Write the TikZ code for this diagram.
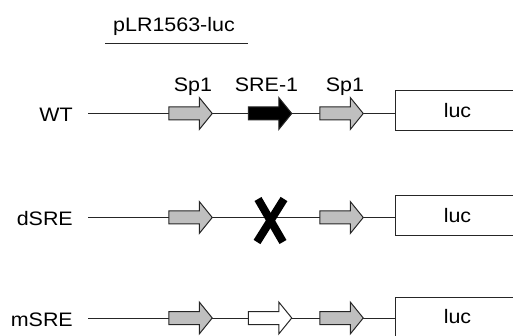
\documentclass[tikz,border=0pt]{standalone}
\usepackage{fontspec}
\setmainfont{Liberation Sans}[FakeStretch=1.1]
\usetikzlibrary{calc}
\tikzset{
  lbl/.style={font=\fontsize{19.5}{22}\selectfont, inner sep=0pt},
  site/.style={minimum width=43.5pt, minimum height=32pt, inner sep=0pt, outer sep=0pt},
  dna/.style={draw=black!85, line width=1pt},
  lucbox/.style={draw=black!85, line width=1pt, minimum width=124pt, minimum height=40pt, inner sep=0pt, font=\fontsize{19.5}{22}\selectfont},
  xmark/.style={draw=black, line width=8pt},
}
\newcommand{\genearrow}[2]{%
  \draw[dna, fill=#2] ($(#1.west)+(0,-6.5)$) -- ++(30.5,0) -- ++(0,-9.5) -- (#1.east)
    -- ++(-13,16) -- ++(0,-9.5) -- ++(-30.5,0) -- cycle;}
\begin{document}
\begin{tikzpicture}[x=1pt,y=-1pt]
\useasboundingbox (0,0) rectangle (513,336);
\clip (0,0) rectangle (513,336);
% title
\node[lbl, anchor=base] (title) at (174,32) {pLR1563-luc};
\coordinate (ul1) at (105,44);
\coordinate (ul2) at (248,44);
\draw[dna] (ul1) -- (ul2);

% ---- WT ----
\node[lbl, anchor=base east] (wt) at (73,122) {WT};
\coordinate (s1) at (88,113.5);
\node[site] (a1) at (190.5,113.5) {};
\node[site] (b1) at (270,113.5) {};
\node[site] (c1) at (341.5,113.5) {};
\node[lucbox, anchor=west] (l1) at (395,111) {luc};
\draw[dna] (s1) -- (a1.west);
\draw[dna] (a1.east) -- (b1.west);
\draw[dna] (b1.east) -- (c1.west);
\draw[dna] (c1.east) -- (l1.west |- c1.east);
\genearrow{a1}{black!25}
\genearrow{b1}{black}
\genearrow{c1}{black!25}
\node[lbl, anchor=base] (sp1a) at (193,92) {Sp1};
\node[lbl, anchor=base] (sre) at (266.5,92) {SRE-1};
\node[lbl, anchor=base] (sp1b) at (345,92) {Sp1};

% ---- dSRE ----
\node[lbl, anchor=base east] (dsre) at (73,226) {dSRE};
\coordinate (s2) at (88,217.5);
\node[site] (a2) at (190.5,217.5) {};
\coordinate (x2) at (270.5,220.5);
\node[site] (c2) at (341.5,217.5) {};
\node[lucbox, anchor=west] (l2) at (395,216) {luc};
\draw[dna] (s2) -- (a2.west);
\draw[dna] (a2.east) -- (c2.west);
\draw[dna] (c2.east) -- (l2.west |- c2.east);
\genearrow{a2}{black!25}
\genearrow{c2}{black!25}
\draw[xmark] ($(x2)+(-12.5,-21.5)$) -- ($(x2)+(12.5,21.5)$);
\draw[xmark] ($(x2)+(13.5,-21.5)$) -- ($(x2)+(-13.5,21.5)$);

% ---- mSRE ----
\node[lbl, anchor=base east] (msre) at (73,326.5) {mSRE};
\coordinate (s3) at (88,318);
\node[site] (a3) at (190.5,318) {};
\node[site] (b3) at (270,318) {};
\node[site] (c3) at (341.5,318) {};
\node[lucbox, anchor=west] (l3) at (395,317) {luc};
\draw[dna] (s3) -- (a3.west);
\draw[dna] (a3.east) -- (b3.west);
\draw[dna] (b3.east) -- (c3.west);
\draw[dna] (c3.east) -- (l3.west |- c3.east);
\genearrow{a3}{black!25}
\genearrow{b3}{white}
\genearrow{c3}{black!25}
\end{tikzpicture}
\end{document}
